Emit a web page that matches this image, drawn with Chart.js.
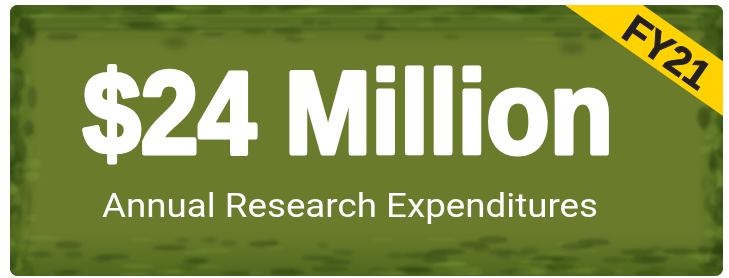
<!DOCTYPE html>
<html><head><meta charset="utf-8">
<script src="https://cdn.jsdelivr.net/npm/chart.js@4"></script>
<style>html,body{margin:0;padding:0;background:#fff;overflow:hidden}canvas{display:block}</style>
</head><body>
<canvas id="c" width="729" height="278"></canvas>
<script>
// ---- data ----
const categories = ['FY21'];
const values = [24];
const units = ['Million'];
const currencySymbols = ['$'];
const subtitles = ['Annual Research Expenditures'];

function hash(n){ const s=Math.sin(n*12.9898+78.233)*43758.5453; return s-Math.floor(s); }

const banner = {
  id:'banner',
  beforeDraw(chart){
    const ctx=chart.ctx, W=chart.width, H=chart.height;
    const x0=10,y0=5,x1=723,y1=276,r=8;
    ctx.save();
    ctx.fillStyle='#fff'; ctx.fillRect(0,0,W,H);
    ctx.beginPath(); ctx.roundRect(x0,y0,x1-x0,y1-y0,r); ctx.clip();
    ctx.fillStyle='#6b7b2c'; ctx.fillRect(x0,y0,x1-x0,y1-y0);
    // edge darkening
    let g=ctx.createLinearGradient(0,y0,0,y0+42);
    g.addColorStop(0,'rgba(62,92,22,0.8)'); g.addColorStop(0.65,'rgba(72,100,26,0.35)'); g.addColorStop(1,'rgba(72,100,26,0)');
    ctx.fillStyle=g; ctx.fillRect(x0,y0,x1-x0,42);
    g=ctx.createLinearGradient(0,y1,0,y1-45);
    g.addColorStop(0,'rgba(66,96,22,0.7)'); g.addColorStop(0.6,'rgba(72,100,26,0.3)'); g.addColorStop(1,'rgba(72,100,26,0)');
    ctx.fillStyle=g; ctx.fillRect(x0,y1-45,x1-x0,45);
    g=ctx.createLinearGradient(x0,0,x0+28,0);
    g.addColorStop(0,'rgba(66,96,22,0.7)'); g.addColorStop(1,'rgba(72,100,26,0)');
    ctx.fillStyle=g; ctx.fillRect(x0,y0,28,y1-y0);
    g=ctx.createLinearGradient(x1,0,x1-26,0);
    g.addColorStop(0,'rgba(66,96,22,0.7)'); g.addColorStop(1,'rgba(72,100,26,0)');
    ctx.fillStyle=g; ctx.fillRect(x1-26,y0,26,y1-y0);
    // soft mottled texture in the frame
    ctx.filter='blur(1.6px)';
    for(let i=0;i<420;i++){
      const side=i%4, t=hash(i+1), d=hash(i+101), a=hash(i+201), b=hash(i+301);
      let x,y;
      if(side===0){x=x0+t*(x1-x0); y=y0+2+d*d*34;}
      else if(side===1){x=x0+t*(x1-x0); y=y1-2-d*d*36;}
      else if(side===2){x=x0+d*d*24; y=y0+t*(y1-y0);}
      else {x=x1-d*d*22; y=y0+t*(y1-y0);}
      const horiz=side<2;
      const rx=horiz?5+a*14:2+a*5, ry=horiz?1.2+b*2.5:3+b*9;
      ctx.beginPath(); ctx.ellipse(x,y,rx,ry,0,0,Math.PI*2);
      ctx.fillStyle = b>0.5 ? 'rgba(40,62,14,'+(0.18+a*0.25)+')' : 'rgba(130,160,62,'+(0.12+a*0.2)+')';
      ctx.fill();
    }
    // thin horizontal streaks along the top like a banknote border
    ctx.filter='blur(0.8px)';
    ctx.strokeStyle='rgba(120,150,55,0.45)'; ctx.lineWidth=2;
    ctx.beginPath(); ctx.moveTo(x0+20,y0+11); ctx.lineTo(x1-20,y0+11); ctx.stroke();
    ctx.strokeStyle='rgba(45,68,15,0.35)'; ctx.lineWidth=2;
    ctx.beginPath(); ctx.moveTo(x0+20,y0+24); ctx.lineTo(x1-20,y0+24); ctx.stroke();
    ctx.filter='blur(3px)';
    ctx.fillStyle='rgba(45,65,15,0.4)';
    ctx.beginPath(); ctx.ellipse(175,43,12,5,0,0,Math.PI*2); ctx.fill();
    ctx.beginPath(); ctx.ellipse(572,48,12,6,0,0,Math.PI*2); ctx.fill();
    ctx.filter='none';
    ctx.restore();
  },
  afterDraw(chart){
    const ctx=chart.ctx;
    const x0=10,y0=5,x1=723,y1=276,r=8;
    const v=chart.data.datasets[0].data[0];
    const label=chart.data.labels[0];
    ctx.save();
    // main number
    const main=currencySymbols[0]+v+' '+units[0];
    ctx.font='bold 116px "Liberation Sans Narrow","Liberation Sans",Arial,sans-serif';
    ctx.textBaseline='alphabetic'; ctx.textAlign='left';
    const mw=ctx.measureText(main).width;
    const targetW=530, left=83, base=153;
    ctx.save();
    ctx.translate(left,base); ctx.scale(targetW/mw,1);
    ctx.fillStyle='#fff'; ctx.strokeStyle='#fff'; ctx.lineWidth=5; ctx.lineJoin='round';
    ctx.fillText(main,0,0); ctx.strokeText(main,0,0);
    ctx.restore();
    // subtitle
    ctx.font='34px Roboto,"Liberation Sans",sans-serif';
    const sw=ctx.measureText(subtitles[0]).width;
    ctx.save();
    ctx.translate(102,217); ctx.scale(496/sw,1);
    ctx.fillStyle='#fff'; ctx.fillText(subtitles[0],0,0);
    ctx.restore();
    // ribbon
    ctx.save();
    ctx.beginPath(); ctx.roundRect(x0,y0,x1-x0,y1-y0,r); ctx.clip();
    const slope=113/161;
    ctx.beginPath();
    ctx.moveTo(562,y0-2); ctx.lineTo(640,y0-2);
    ctx.lineTo(x1+5,y0-2+(x1+5-640)*slope);
    ctx.lineTo(x1+5,y0-2+(x1+5-562)*slope);
    ctx.closePath();
    ctx.fillStyle='#ffd200'; ctx.fill();
    ctx.translate(667,52); ctx.rotate(Math.atan(slope));
    ctx.font='bold 40px "Liberation Sans",Arial,sans-serif';
    ctx.textAlign='center'; ctx.textBaseline='alphabetic';
    ctx.fillStyle='#231f20'; ctx.strokeStyle='#231f20'; ctx.lineWidth=1;
    ctx.fillText(label,0,14); ctx.strokeText(label,0,14);
    ctx.restore();
    ctx.restore();
  }
};

new Chart(document.getElementById('c'),{
  type:'bar',
  data:{labels:categories,datasets:[{data:values,backgroundColor:'rgba(0,0,0,0)',borderWidth:0}]},
  options:{responsive:false,animation:false,events:[],
    layout:{padding:0},
    plugins:{legend:{display:false},tooltip:{enabled:false}},
    scales:{x:{display:false},y:{display:false,min:0,max:100}}},
  plugins:[banner]
});
</script>
</body></html>
